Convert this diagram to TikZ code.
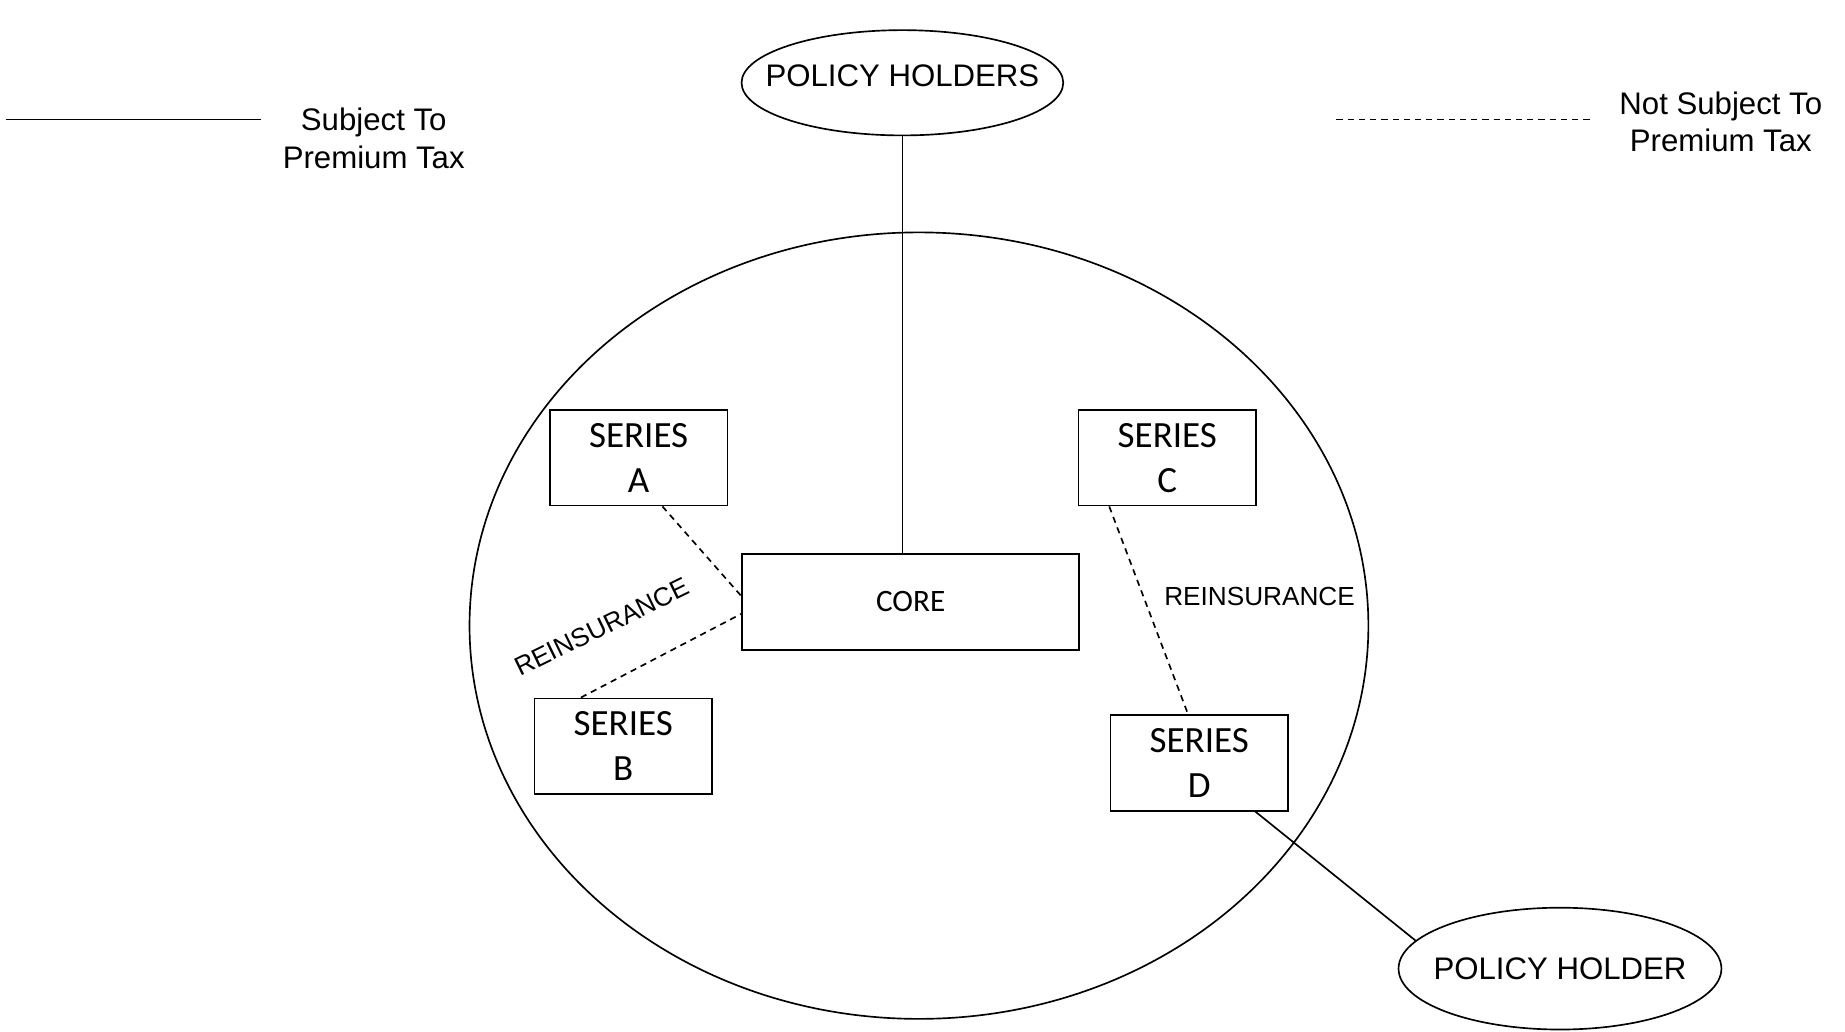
\documentclass[tikz,border=0pt]{standalone}
\usepackage{fontspec}
\setmainfont{Liberation Sans}
\newfontfamily\calibri{Carlito}
\usepackage{tikz}
\usetikzlibrary{shapes.geometric}
\usetikzlibrary{positioning}
\tikzset{line/.style = {line width=0.8pt}}
\tikzset{notax/.style = {line width=0.8pt, dash pattern=on 3pt off 2.4pt}}
\tikzset{holder/.style = {draw, ellipse, line width=0.8pt, inner sep=0pt}}
\tikzset{holdertext/.style = {inner sep=0pt, font=\fontsize{15}{18}\selectfont}}
\tikzset{seriesbox/.style = {draw, rectangle, line width=0.8pt, inner sep=0pt,
                             minimum width=3cm, minimum height=1.62cm, align=center,
                             font=\calibri\fontsize{17.8}{21.6}\selectfont}}
\tikzset{legend/.style = {align=center, font=\fontsize{15}{18}\selectfont}}
\tikzset{reins/.style = {font=\fontsize{12.6}{15}\selectfont, inner sep=0pt}}

\begin{document}
\begin{tikzpicture}
      \useasboundingbox (0, 0) rectangle (31.2, 17.44);

      \coordinate (solidL) at (0.1, 15.42);
      \coordinate (solidR) at (4.42, 15.42);
      \draw [line] (solidL) -- (solidR);
      \node [legend] (solidtext) at (6.32, 15.1) {Subject To\\Premium Tax};

      \coordinate (dashL) at (22.6, 15.42);
      \coordinate (dashR) at (26.94, 15.42);
      \draw [notax] (dashL) -- (dashR);
      \node [legend] (dashtext) at (29.1, 15.38) {Not Subject To\\Premium Tax};

      \node [holder, minimum width=5.44cm, minimum height=1.78cm,
             label={[holdertext, yshift=0.12cm]center:POLICY HOLDERS}] (holders) at (15.26, 16.04) {};
      \node [draw, ellipse, line, minimum width=15.2cm, minimum height=13.3cm] (cell) at (15.54, 6.86) {};

      \node [draw, rectangle, line, inner sep=0pt, minimum width=5.7cm, minimum height=1.62cm,
             font=\calibri\fontsize{15}{18}\selectfont] (core) at (15.4, 7.26) {CORE};

      \foreach \n/\x/\y in {A/10.8/9.7, B/10.54/4.82, C/19.74/9.7, D/20.28/4.54} {
        \node [seriesbox] (series\n) at (\x, \y) {SERIES\\\n};
      }

      \node [holder, minimum width=5.46cm, minimum height=2.06cm,
             label={[holdertext]center:POLICY HOLDER}] (holder) at (26.38, 1.06) {};

      \draw [line] (holders.south) -- (holders.south |- core.north);
      \draw [notax] (seriesA.-64) -- (core.178);
      \draw [notax] (seriesB.131) -- (core.184);
      \draw [notax] (seriesC.220) -- (seriesD.103);
      \draw [line] (seriesD.-41) -- (holder.169);

      \node [reins, rotate=26] (reinsAB) at (10.18, 6.84) {REINSURANCE};
      \node [reins] (reinsCD) at (21.3, 7.36) {REINSURANCE};
    \end{tikzpicture}
\end{document}
